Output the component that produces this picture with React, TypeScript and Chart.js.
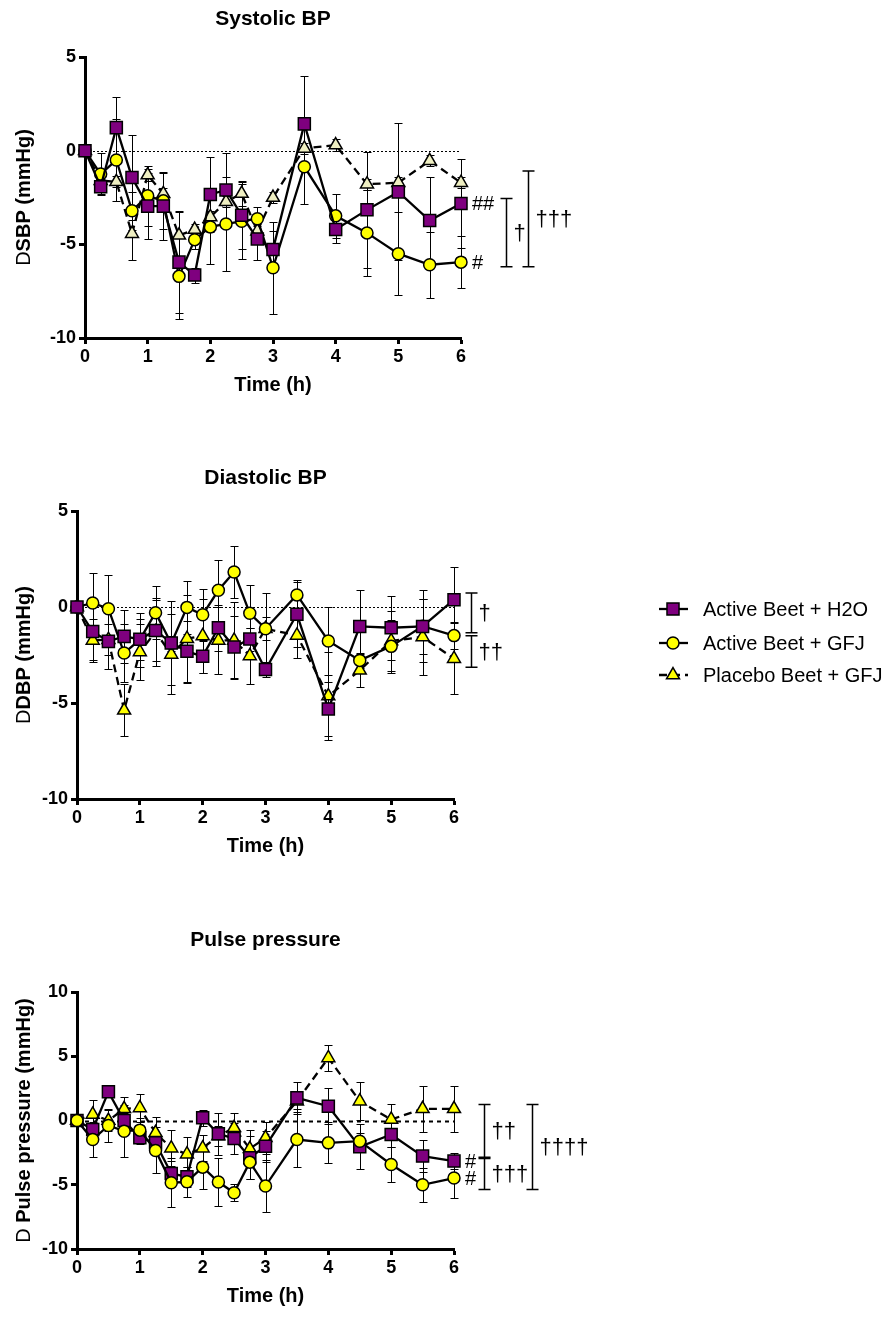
import React, { useEffect, useRef } from 'react';
import { Chart, registerables } from 'chart.js';

Chart.register(...registerables);

const FONT = "'Liberation Sans', Arial, sans-serif";

// Sampling times (h)
const TIMES = [0, 0.25, 0.5, 0.75, 1, 1.25, 1.5, 1.75, 2, 2.25, 2.5, 2.75, 3, 3.5, 4, 4.5, 5, 5.5, 6];
const X_TICKS = [0, 1, 2, 3, 4, 5, 6];
const SERIES_NAMES = ['Active Beet + H2O', 'Active Beet + GFJ', 'Placebo Beet + GFJ'];

// Systolic BP change (mmHg), mean and SEM
const sbpH2O = [0, -1.93, 1.23, -1.43, -2.96, -2.96, -5.95, -6.64, -2.34, -2.1, -3.45, -4.71, -5.27, 1.43, -4.21, -3.16, -2.2, -3.73, -2.82];
const sbpH2OErr = [0, 0.4, 1.63, 2.27, 1.75, 1.8, 2.7, 0.4, 2.0, 2.0, 1.8, 1.1, 1.0, 2.53, 0.7, 3.1, 3.66, 2.3, 2.36];
const sbpGFJ = [0, -1.25, -0.5, -3.21, -2.41, -2.68, -6.71, -4.75, -4.07, -3.91, -3.77, -3.63, -6.25, -0.86, -3.48, -4.39, -5.5, -6.09, -5.95];
const sbpGFJErr = [0, 1.1, 2.2, 1.0, 1.6, 1.5, 2.3, 0.5, 2.0, 2.5, 2.0, 0.6, 2.46, 2.0, 1.16, 2.3, 2.2, 1.75, 1.37];
const sbpPlacebo = [0, -1.6, -1.66, -4.43, -1.3, -2.3, -4.52, -4.21, -3.54, -2.73, -2.29, -4.3, -2.5, 0.12, 0.3, -1.79, -1.71, -0.54, -1.71];
const sbpPlaceboErr = [0, 0.3, 0.3, 1.4, 0.3, 0.3, 1.3, 0.3, 0.3, 0.3, 0.66, 0.3, 0.3, 0.3, 0.3, 0.3, 0.3, 0.3, 0.3];

// Diastolic BP change (mmHg)
const dbpH2O = [0, -1.28, -1.79, -1.53, -1.68, -1.22, -1.88, -2.31, -2.57, -1.08, -2.08, -1.67, -3.26, -0.38, -5.31, -1.01, -1.08, -1.01, 0.38];
const dbpH2OErr = [0, 1.5, 1.46, 1.39, 1.07, 1.6, 2.2, 1.6, 0.87, 1.2, 1.6, 0.6, 0.4, 1.68, 1.41, 1.88, 1.67, 1.88, 1.69];
const dbpGFJ = [0, 0.21, -0.09, -2.4, -1.7, -0.3, -1.9, -0.02, -0.4, 0.87, 1.82, -0.33, -1.13, 0.63, -1.77, -2.78, -2.05, -1.0, -1.49];
const dbpGFJErr = [0, 1.56, 1.74, 1.5, 1.4, 1.39, 0.4, 1.4, 1.35, 1.6, 1.36, 1.48, 1.86, 0.8, 1.77, 0.4, 1.37, 1.43, 0.7];
const dbpPlacebo = [0, -1.74, -1.7, -5.38, -2.34, -1.3, -2.47, -1.65, -1.51, -1.74, -1.74, -2.55, -1.13, -1.48, -4.64, -3.3, -1.77, -1.56, -2.69];
const dbpPlaceboErr = [0, 1.1, 0.8, 1.36, 1.44, 1.77, 2.08, 2.3, 1.93, 1.73, 2.0, 1.48, 0.6, 1.18, 2.3, 0.87, 1.56, 1.96, 1.86];

// Pulse pressure change (mmHg)
const ppH2O = [0, -0.7, 2.23, 0, -1.35, -1.74, -4.12, -4.38, 0.21, -1.04, -1.4, -2.9, -2.0, 1.76, 1.11, -2.05, -1.09, -2.77, -3.16];
const ppH2OErr = [0, 0.5, 0.4, 0.6, 0.5, 0.8, 1.0, 0.8, 0.6, 1.64, 1.2, 1.69, 1.2, 1.22, 1.42, 1.76, 1.0, 1.25, 0.6];
const ppGFJ = [0, -1.48, -0.39, -0.83, -0.75, -2.33, -4.84, -4.77, -3.63, -4.79, -5.62, -3.24, -5.1, -1.48, -1.74, -1.61, -3.42, -5.0, -4.48];
const ppGFJErr = [0, 1.34, 1.29, 2.0, 0.93, 1.79, 1.9, 1.16, 1.68, 1.87, 0.65, 1.35, 2.0, 2.12, 1.6, 0.6, 1.35, 1.32, 1.53];
const ppPlacebo = [0, 0.47, 0, 0.91, 0.98, -0.96, -2.15, -2.62, -2.15, -1.2, -0.57, -2.2, -1.35, 1.5, 4.87, 1.5, 0.08, 0.91, 0.91];
const ppPlaceboErr = [0, 1.16, 0.78, 0.93, 1.09, 1.24, 1.4, 1.32, 1.0, 0.8, 1.17, 1.45, 1.25, 0.6, 0.98, 1.48, 1.22, 1.81, 1.81];

// Significance annotations: '#' marks beside end points, dagger brackets spanning value ranges
const sbpMarks = [{ series: 0, text: '##' }, { series: 1, text: '#' }];
const sbpBrackets = [{ from: -2.55, to: -6.2, label: '†' }, { from: -1.09, to: -6.2, label: '†††' }];
const dbpMarks: { series: number; text: string }[] = [];
const dbpBrackets = [{ from: 0.73, to: -1.34, label: '†' }, { from: -1.5, to: -3.14, label: '††' }];
const ppMarks = [{ series: 0, text: '#' }, { series: 1, text: '#' }];
const ppBrackets = [{ from: 1.25, to: -2.86, label: '††' }, { from: -2.95, to: -5.37, label: '†††' }, { from: 1.25, to: -5.37, label: '††††' }];

const PURPLE = '#7F007F';
const YELLOW = '#FFFF00';

type Mark = { series: number; text: string };
type Bracket = { from: number; to: number; label: string };

interface Frame {
  canvasTop: number;
  canvasHeight: number;
  left: number;
  right: number;
  top: number;
  bottom: number;
  titleY: number;
  bracketX: number[];
  placeboFill: string;
  order: number[];
  zeroWidth: number;
  zeroDash: number[];
  legend: boolean;
}

interface Panel {
  title: string;
  yPrefix: string;
  yTitle: string;
  yMin: number;
  yMax: number;
  values: number[][];
  errors: number[][];
  marks: Mark[];
  brackets: Bracket[];
  frame: Frame;
}

const WIDTH = 888;

const panels: Panel[] = [
  {
    title: 'Systolic BP',
    yPrefix: 'D',
    yTitle: 'SBP (mmHg)',
    yMin: -10,
    yMax: 5,
    values: [sbpH2O, sbpGFJ, sbpPlacebo],
    errors: [sbpH2OErr, sbpGFJErr, sbpPlaceboErr],
    marks: sbpMarks,
    brackets: sbpBrackets,
    frame: {
      canvasTop: 0, canvasHeight: 410, left: 85, right: 461, top: 57, bottom: 338, titleY: 19,
      bracketX: [45, 67], placeboFill: '#EFEFC2', order: [1, 2, 3], zeroWidth: 1, zeroDash: [2, 2], legend: false,
    },
  },
  {
    title: 'Diastolic BP',
    yPrefix: 'D',
    yTitle: 'DBP (mmHg)',
    yMin: -10,
    yMax: 5,
    values: [dbpH2O, dbpGFJ, dbpPlacebo],
    errors: [dbpH2OErr, dbpGFJErr, dbpPlaceboErr],
    marks: dbpMarks,
    brackets: dbpBrackets,
    frame: {
      canvasTop: 455, canvasHeight: 420, left: 77, right: 454, top: 511, bottom: 799, titleY: 478,
      bracketX: [17, 17], placeboFill: YELLOW, order: [1, 2, 3], zeroWidth: 1, zeroDash: [2, 2], legend: true,
    },
  },
  {
    title: 'Pulse pressure',
    yPrefix: 'D ',
    yTitle: 'Pulse pressure (mmHg)',
    yMin: -10,
    yMax: 10,
    values: [ppH2O, ppGFJ, ppPlacebo],
    errors: [ppH2OErr, ppGFJErr, ppPlaceboErr],
    marks: ppMarks,
    brackets: ppBrackets,
    frame: {
      canvasTop: 915, canvasHeight: 402, left: 77, right: 454, top: 992, bottom: 1249, titleY: 940,
      bracketX: [30, 30, 78], placeboFill: YELLOW, order: [2, 1, 3], zeroWidth: 2, zeroDash: [4, 4], legend: false,
    },
  },
];

const markerStyles = ['rect', 'circle', 'triangle'];
const markerRadius = [8.5, 6, 7.5];

function drawMarker(ctx: CanvasRenderingContext2D, kind: number, x: number, y: number, fill: string) {
  ctx.save();
  ctx.fillStyle = fill;
  ctx.strokeStyle = '#000';
  ctx.lineWidth = 1.5;
  ctx.setLineDash([]);
  ctx.beginPath();
  if (kind === 0) {
    const s = markerRadius[0] * Math.SQRT1_2;
    ctx.rect(x - s, y - s, 2 * s, 2 * s);
  } else if (kind === 1) {
    ctx.arc(x, y, markerRadius[1], 0, Math.PI * 2);
  } else {
    const r = markerRadius[2];
    ctx.moveTo(x, y - r);
    ctx.lineTo(x + r * Math.sin(Math.PI / 3), y + r / 2);
    ctx.lineTo(x - r * Math.sin(Math.PI / 3), y + r / 2);
    ctx.closePath();
  }
  ctx.fill();
  ctx.stroke();
  ctx.restore();
}

function makeDecor(p: Panel) {
  const f = p.frame;
  return {
    id: 'decor',
    beforeDatasetsDraw(chart: any) {
      const { ctx } = chart;
      const xs = chart.scales.x;
      const ys = chart.scales.y;
      ctx.save();
      // dotted zero reference line
      ctx.strokeStyle = '#000';
      ctx.lineWidth = f.zeroWidth;
      ctx.setLineDash(f.zeroDash);
      const y0 = Math.round(ys.getPixelForValue(0)) + 0.5;
      ctx.beginPath();
      ctx.moveTo(xs.getPixelForValue(0), y0);
      ctx.lineTo(xs.getPixelForValue(6), y0);
      ctx.stroke();
      // SEM error bars, drawn beneath the lines and symbols
      ctx.setLineDash([]);
      ctx.lineWidth = 1;
      p.values.forEach((vals, si) => {
        const errs = p.errors[si];
        vals.forEach((v, j) => {
          const e = errs[j];
          if (!e) return;
          const px = Math.round(xs.getPixelForValue(TIMES[j])) + 0.5;
          const yt = Math.round(ys.getPixelForValue(v + e)) + 0.5;
          const yb = Math.round(ys.getPixelForValue(v - e)) + 0.5;
          ctx.beginPath();
          ctx.moveTo(px, yt);
          ctx.lineTo(px, yb);
          ctx.moveTo(px - 4, yt);
          ctx.lineTo(px + 4, yt);
          ctx.moveTo(px - 4, yb);
          ctx.lineTo(px + 4, yb);
          ctx.stroke();
        });
      });
      ctx.restore();
    },
    afterDraw(chart: any) {
      const { ctx, chartArea } = chart;
      const xs = chart.scales.x;
      const ys = chart.scales.y;
      const cx = (chartArea.left + chartArea.right) / 2;
      ctx.save();
      ctx.fillStyle = '#000';
      ctx.strokeStyle = '#000';

      // panel title
      ctx.font = `bold 21px ${FONT}`;
      ctx.textAlign = 'center';
      ctx.textBaseline = 'middle';
      ctx.fillText(p.title, cx, f.titleY - f.canvasTop);

      // x-axis title
      ctx.font = `bold 20px ${FONT}`;
      ctx.fillText('Time (h)', cx, chartArea.bottom + 47);

      // y-axis title: plain prefix followed by bold label
      ctx.save();
      ctx.translate(24, (chartArea.top + chartArea.bottom) / 2);
      ctx.rotate(-Math.PI / 2);
      ctx.font = `20px ${FONT}`;
      const w1 = ctx.measureText(p.yPrefix).width;
      ctx.font = `bold 20px ${FONT}`;
      const w2 = ctx.measureText(p.yTitle).width;
      const start = -(w1 + w2) / 2;
      ctx.textAlign = 'left';
      ctx.font = `20px ${FONT}`;
      ctx.fillText(p.yPrefix, start, 0);
      ctx.font = `bold 20px ${FONT}`;
      ctx.fillText(p.yTitle, start + w1, 0);
      ctx.restore();

      // '#' marks beside the final time point
      ctx.font = `20px ${FONT}`;
      ctx.textAlign = 'left';
      ctx.textBaseline = 'middle';
      p.marks.forEach((m) => {
        const last = TIMES.length - 1;
        const px = xs.getPixelForValue(TIMES[last]);
        const py = ys.getPixelForValue(p.values[m.series][last]);
        ctx.fillText(m.text, px + 11, py + 1);
      });

      // dagger brackets
      ctx.lineWidth = 1.5;
      p.brackets.forEach((b, i) => {
        const bx = Math.round(chartArea.right + f.bracketX[i]) + 0.5;
        const y1 = ys.getPixelForValue(b.from);
        const y2 = ys.getPixelForValue(b.to);
        ctx.beginPath();
        ctx.moveTo(bx, y1);
        ctx.lineTo(bx, y2);
        ctx.moveTo(bx - 6, y1);
        ctx.lineTo(bx + 6, y1);
        ctx.moveTo(bx - 6, y2);
        ctx.lineTo(bx + 6, y2);
        ctx.stroke();
        ctx.font = `22px ${FONT}`;
        ctx.fillText(b.label, bx + 7, (y1 + y2) / 2 + 1);
      });

      // legend
      if (f.legend) {
        const rows = [609, 643, 675];
        const fills = [PURPLE, YELLOW, YELLOW];
        rows.forEach((ry, i) => {
          const yy = ry - f.canvasTop;
          ctx.save();
          ctx.lineWidth = 2.3;
          ctx.setLineDash(i === 2 ? [8, 5] : []);
          ctx.beginPath();
          ctx.moveTo(659, yy);
          ctx.lineTo(688, yy);
          ctx.stroke();
          ctx.restore();
          drawMarker(ctx, i, 673, yy, fills[i]);
          ctx.font = `20px ${FONT}`;
          ctx.textAlign = 'left';
          ctx.textBaseline = 'middle';
          ctx.fillText(SERIES_NAMES[i], 703, yy + 1);
        });
      }
      ctx.restore();
    },
  };
}

function PanelChart({ panel }: { panel: Panel }) {
  const ref = useRef<HTMLCanvasElement | null>(null);
  useEffect(() => {
    const canvas = ref.current;
    if (!canvas) return;
    const f = panel.frame;
    const fills = [PURPLE, YELLOW, f.placeboFill];
    const datasets = panel.values.map((vals, i) => ({
      label: SERIES_NAMES[i],
      data: vals.map((v, j) => ({ x: TIMES[j], y: v })),
      borderColor: '#000',
      borderWidth: 2.3,
      borderDash: i === 2 ? [8, 5] : [],
      pointStyle: markerStyles[i],
      pointRadius: markerRadius[i],
      pointBackgroundColor: fills[i],
      pointBorderColor: '#000',
      pointBorderWidth: 1.5,
      tension: 0,
      clip: false as any,
      order: f.order[i],
    }));
    const tickFont = { family: FONT, size: 18, weight: 'bold' as const };
    const yTicks: number[] = [];
    for (let v = panel.yMin; v <= panel.yMax; v += 5) yTicks.push(v);
    const chart = new Chart(canvas, {
      type: 'line',
      data: { datasets },
      plugins: [makeDecor(panel)],
      options: {
        responsive: false,
        animation: false,
        events: [],
        layout: {
          padding: { top: f.top - f.canvasTop, left: 0, right: WIDTH - f.right, bottom: 0 },
        },
        plugins: { legend: { display: false }, tooltip: { enabled: false }, title: { display: false } },
        scales: {
          x: {
            type: 'linear',
            min: 0,
            max: 6,
            afterFit: (s: any) => {
              s.height = f.canvasHeight - (f.bottom - f.canvasTop);
            },
            afterBuildTicks: (s: any) => {
              s.ticks = X_TICKS.map((v) => ({ value: v }));
            },
            border: { display: true, color: '#000', width: 3 },
            grid: { display: true, drawOnChartArea: false, drawTicks: true, tickLength: 6, tickWidth: 3, tickColor: '#000', color: '#000' },
            ticks: { font: tickFont, color: '#000', padding: 2, maxRotation: 0, autoSkip: false },
          },
          y: {
            type: 'linear',
            min: panel.yMin,
            max: panel.yMax,
            afterFit: (s: any) => {
              s.width = f.left;
            },
            afterBuildTicks: (s: any) => {
              s.ticks = yTicks.map((v) => ({ value: v }));
            },
            border: { display: true, color: '#000', width: 3 },
            grid: { display: true, drawOnChartArea: false, drawTicks: true, tickLength: 6, tickWidth: 3, tickColor: '#000', color: '#000' },
            ticks: { font: tickFont, color: '#000', padding: 3, autoSkip: false },
          },
        },
      },
    } as any);
    return () => chart.destroy();
  }, [panel]);
  const f = panel.frame;
  return (
    <canvas
      ref={ref}
      width={WIDTH}
      height={f.canvasHeight}
      style={{ position: 'absolute', left: 0, top: f.canvasTop, width: WIDTH, height: f.canvasHeight }}
    />
  );
}

export default function App() {
  return (
    <div style={{ position: 'absolute', left: 0, top: 0, width: WIDTH, height: 1317, background: '#fff' }}>
      {panels.map((p) => (
        <PanelChart key={p.title} panel={p} />
      ))}
    </div>
  );
}
